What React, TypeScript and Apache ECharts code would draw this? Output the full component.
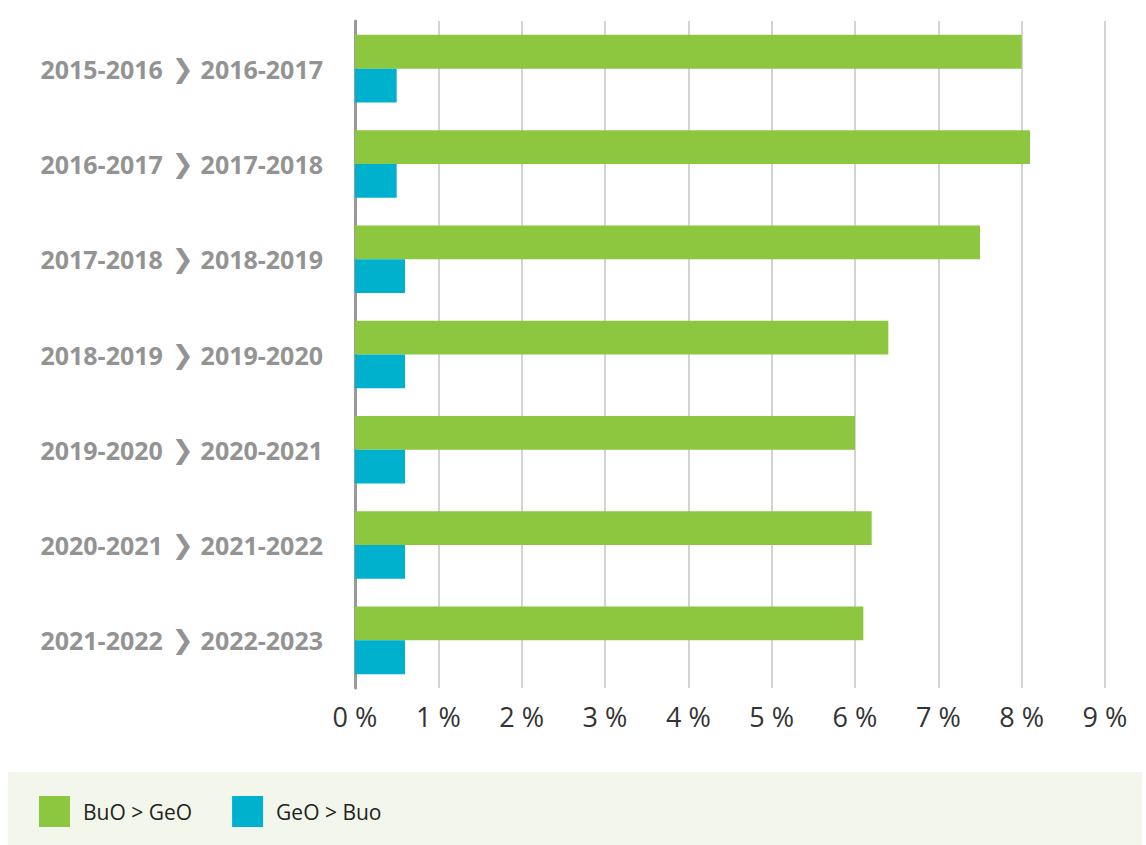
import React, { useEffect, useRef } from "react";
import * as echarts from "echarts";

const fromYears = ["2015-2016", "2016-2017", "2017-2018", "2018-2019", "2019-2020", "2020-2021", "2021-2022"];
const toYears = ["2016-2017", "2017-2018", "2018-2019", "2019-2020", "2020-2021", "2021-2022", "2022-2023"];
const categories = fromYears.map((f, i) => f + "|" + toYears[i]);
const buoToGeo = [8.0, 8.1, 7.5, 6.4, 6.0, 6.2, 6.1];
const geoToBuo = [0.5, 0.5, 0.6, 0.6, 0.6, 0.6, 0.6];
const seriesNames = ["BuO > GeO", "GeO > Buo"];
const xTicks = [0, 1, 2, 3, 4, 5, 6, 7, 8, 9];

export default function App() {
  const ref = useRef<HTMLDivElement>(null);
  useEffect(() => {
    if (!ref.current) return;
    const chart = echarts.init(ref.current, undefined, { renderer: "svg" });
    chart.setOption({
      animation: false,
      backgroundColor: "#ffffff",
      graphic: [
        {
          type: "rect",
          shape: { x: 8, y: 772, width: 1134, height: 73 },
          style: { fill: "#f3f6ea" },
          z: -10,
        },
      ],
      legend: {
        left: 34,
        top: 791,
        itemWidth: 31,
        itemHeight: 31,
        itemGap: 40,
        icon: "rect",
        data: seriesNames,
        textStyle: {
          fontFamily: "Open Sans",
          fontSize: 21,
          color: "#222222",
          padding: [0, 0, 0, 8],
        },
      },
      grid: { left: 355, top: 21, width: 750, height: 667, containLabel: false },
      xAxis: {
        type: "value",
        min: 0,
        max: xTicks[xTicks.length - 1],
        interval: 1,
        axisLine: { show: false },
        axisTick: { show: false },
        splitLine: { show: true, lineStyle: { color: "#c4c4c4", width: 1.5 } },
        axisLabel: {
          formatter: (v: number) => v + " %",
          fontFamily: "Open Sans",
          fontSize: 27,
          color: "#333333",
          margin: 15,
        },
      },
      yAxis: {
        type: "category",
        inverse: true,
        data: categories,
        axisLine: { show: true, lineStyle: { color: "#999999", width: 3 } },
        axisTick: { show: false },
        axisLabel: {
          margin: 32,
          formatter: (v: string) => {
            const [a, b] = v.split("|");
            return "{a|" + a + "}{c|❯}{a|" + b + "}";
          },
          rich: {
            a: { fontFamily: "Open Sans", fontWeight: "bold", fontSize: 25, color: "#939393" },
            c: { fontFamily: "DejaVu Sans", fontSize: 26, color: "#939393", padding: [0, 7, 0, 9] },
          },
        },
      },
      series: [
        {
          name: seriesNames[0],
          type: "bar",
          data: buoToGeo,
          barWidth: 33.8,
          barGap: "0%",
          itemStyle: { color: "#8dc63f" },
        },
        {
          name: seriesNames[1],
          type: "bar",
          data: geoToBuo,
          barWidth: 33.8,
          barGap: "0%",
          itemStyle: { color: "#00b1cd" },
        },
      ],
    });
    return () => chart.dispose();
  }, []);
  return <div ref={ref} style={{ position: "fixed", left: 0, top: 0, width: 1146, height: 845 }} />;
}
